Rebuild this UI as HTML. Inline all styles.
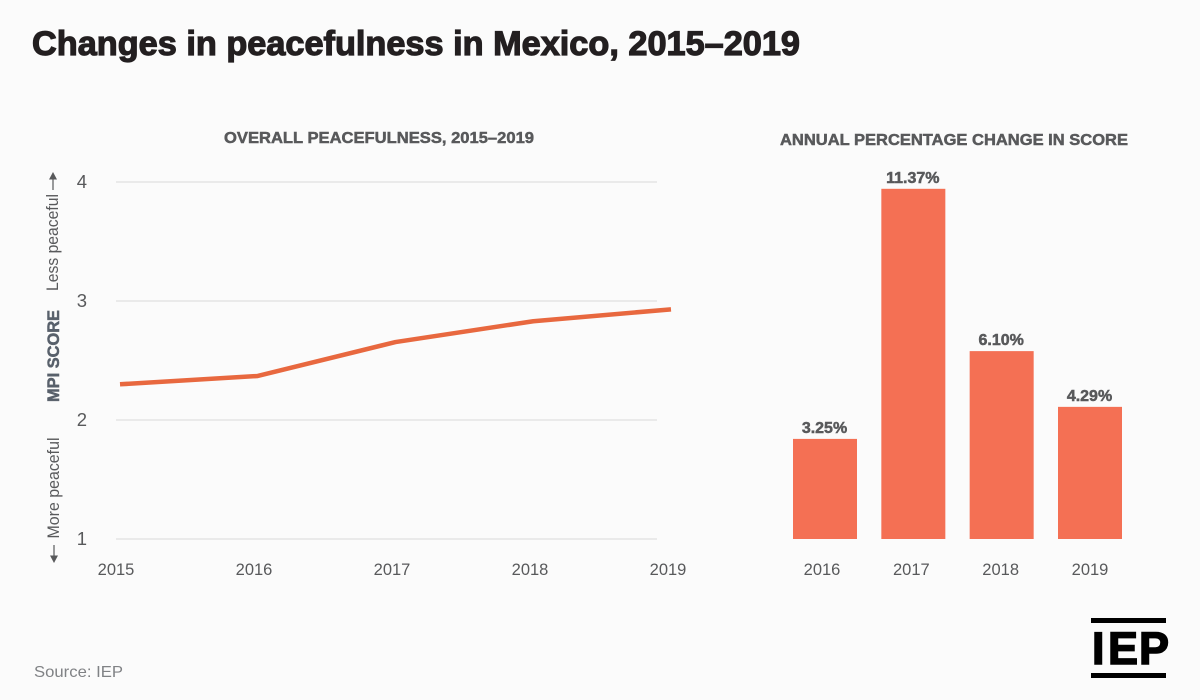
<!DOCTYPE html>
<html lang="en">
<head>
<meta charset="utf-8">
<title>Changes in peacefulness in Mexico, 2015–2019</title>
<style>
html,body{margin:0;padding:0;background:#fbfbfb;}
svg{display:block;font-family:"Liberation Sans",sans-serif;}
</style>
</head>
<body>
<svg id="chart" xmlns="http://www.w3.org/2000/svg" width="1200" height="700" viewBox="0 0 1200 700">
  <rect width="1200" height="700" fill="#fbfbfb"/>
  <text x="32" y="55" font-size="34" font-weight="700" fill="#231f20" stroke="#231f20" stroke-width="1.2" textLength="768" lengthAdjust="spacingAndGlyphs">Changes in peacefulness in Mexico, 2015–2019</text>
  <text x="379" y="143" text-anchor="middle" font-size="16" font-weight="700" fill="#58595b" stroke="#58595b" stroke-width="0.5" textLength="310" lengthAdjust="spacingAndGlyphs">OVERALL PEACEFULNESS, 2015–2019</text>
  <text x="954" y="145" text-anchor="middle" font-size="16" font-weight="700" fill="#58595b" stroke="#58595b" stroke-width="0.5" textLength="348" lengthAdjust="spacingAndGlyphs">ANNUAL PERCENTAGE CHANGE IN SCORE</text>

  <g id="line-grid"></g>
  <g id="line-y-ticks"></g>
  <g id="line-x-ticks"></g>
  <g id="line-series"></g>

  <text transform="translate(59,402) rotate(-90)" font-size="16.500" font-weight="700" fill="#58606b" stroke="#58606b" stroke-width="0.5" textLength="92" lengthAdjust="spacingAndGlyphs">MPI SCORE</text>
  <text transform="translate(58,291) rotate(-90)" font-size="16.500" fill="#58595b" textLength="97" lengthAdjust="spacingAndGlyphs">Less peaceful</text>
  <text transform="translate(59,538.500) rotate(-90)" font-size="16.500" fill="#58595b" textLength="101" lengthAdjust="spacingAndGlyphs">More peaceful</text>
  <g>
    <line x1="53" y1="190" x2="53" y2="178" stroke="#58595b" stroke-width="1.2"/>
    <polygon points="53,172 49,179.500 57,179.500" fill="#58595b"/>
  </g>
  <g>
    <line x1="54" y1="545" x2="54" y2="557" stroke="#58595b" stroke-width="1.2"/>
    <polygon points="54,563 50,555.500 58,555.500" fill="#58595b"/>
  </g>

  <g id="bars"></g>
  <g id="bar-values"></g>
  <g id="bar-x-ticks"></g>

  <text x="34" y="677" font-size="16" fill="#808285" textLength="89" lengthAdjust="spacingAndGlyphs">Source: IEP</text>

  <g>
    <rect x="1091" y="618" width="75" height="5" fill="#000"/>
    <rect x="1091" y="673" width="75" height="5" fill="#000"/>
    <text y="664" font-size="45" font-weight="700" fill="#000" stroke="#000" stroke-width="1.500"><tspan x="1092">I</tspan><tspan x="1108">E</tspan><tspan x="1139">P</tspan></text>
  </g>
</svg>
<script>
var lineYears = ['2015', '2016', '2017', '2018', '2019'];
var lineScores = [2.30, 2.37, 2.655, 2.83, 2.93];
var yTickValues = [1, 2, 3, 4];
var barYears = ['2016', '2017', '2018', '2019'];
var barChanges = [3.25, 11.37, 6.10, 4.29];

var NS = 'http://www.w3.org/2000/svg';
function make(tag, attrs, parentId, content) {
  var el = document.createElementNS(NS, tag);
  for (var k in attrs) { el.setAttribute(k, attrs[k]); }
  if (content !== undefined) { el.textContent = content; }
  document.getElementById(parentId).appendChild(el);
  return el;
}

/* Axis functions */
function lineY(v) { return 539 - (v - 1) * 119; }
function lineX(i) { return 120 + i * (671 - 120) / (lineYears.length - 1); }
function lineTickX(i) { return 116 + i * 138; }
function barLeft(i) { return 793 + i * (1058 - 793) / (barYears.length - 1); }
function barTickX(i) { return 822 + i * (1090 - 822) / (barYears.length - 1); }
function barHeight(v) { return v * 30.8; }
var BAR_BASE = 539;
var BAR_WIDTH = 64;

yTickValues.forEach(function (v) {
  var g = make('line', { x1: 116, x2: 657, y1: lineY(v), y2: lineY(v), stroke: '#d8d8d8', 'stroke-width': 1 }, 'line-grid');
  
  
  var t = make('text', { x: 87, y: lineY(v) + 6, 'text-anchor': 'end', 'font-size': 18.5, fill: '#58595b' }, 'line-y-ticks', String(v));
  
  
});

lineYears.forEach(function (y, i) {
  var t = make('text', { x: lineTickX(i), y: 575, 'text-anchor': 'middle', 'font-size': 16.5, fill: '#58595b' }, 'line-x-ticks', y);
  
  
});

var linePoints = lineScores.map(function (v, i) { return lineX(i) + ',' + lineY(v); }).join(' ');
var path = make('polyline', { points: linePoints, fill: 'none', stroke: '#e8683f', 'stroke-width': 4.5, 'stroke-linejoin': 'round' }, 'line-series');



barChanges.forEach(function (v, i) {
  var h = barHeight(v);
  var left = barLeft(i);
  var r = make('rect', { x: left, y: BAR_BASE - h, width: BAR_WIDTH, height: h, fill: '#f47054' }, 'bars');
  
  
  var t = make('text', { x: left + BAR_WIDTH / 2 - 0.5, y: BAR_BASE - h - 6, 'text-anchor': 'middle', 'font-size': 16, 'font-weight': 700, fill: '#58595b', stroke: '#58595b', 'stroke-width': 0.5 }, 'bar-values', v.toFixed(2) + '%');
  
  
  var x = make('text', { x: barTickX(i), y: 575, 'text-anchor': 'middle', 'font-size': 16.5, fill: '#58595b' }, 'bar-x-ticks', barYears[i]);
  
  
});
</script>
</body>
</html>
